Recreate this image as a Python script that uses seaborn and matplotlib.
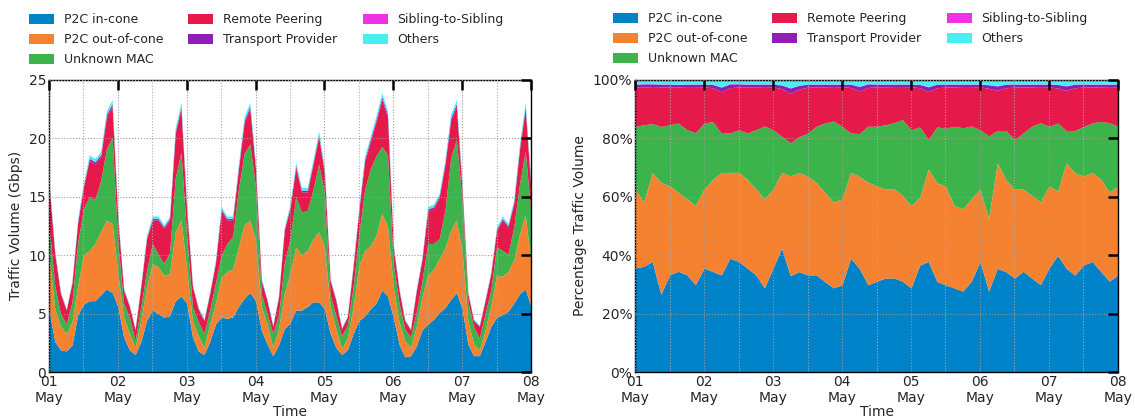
import pandas as pd
import matplotlib
matplotlib.use('Agg')
import matplotlib.pyplot as plt
import matplotlib.dates as mdates
from matplotlib.ticker import MultipleLocator, FuncFormatter
import seaborn as sns

# series names and colours
labels = ['P2C in-cone', 'P2C out-of-cone', 'Unknown MAC', 'Remote Peering',
          'Transport Provider', 'Sibling-to-Sibling', 'Others']
colors = ['#0082c8', '#f58231', '#3cb44b', '#e6194b', '#911eb4', '#f032e6', '#46f0f0']

# --- traffic volume (Gbps), 2-hourly, 01 May 00:00 .. 08 May 00:00 (one row per day) ---
in_cone = [5.3, 2.6, 1.9, 1.8, 2.3, 4.9, 5.8, 6.1, 6.1, 6.6, 7.1, 6.8,
           5.6, 3.0, 1.9, 1.5, 2.6, 4.4, 5.3, 5.0, 4.7, 4.8, 6.1, 6.5,
           5.9, 3.0, 1.8, 1.5, 2.6, 4.1, 4.7, 4.6, 4.7, 5.6, 6.3, 6.8,
           6.1, 3.6, 2.4, 1.4, 2.3, 3.7, 4.2, 5.3, 5.3, 5.6, 6.0, 6.0,
           5.4, 3.3, 2.1, 1.5, 1.9, 3.3, 4.4, 4.8, 5.4, 5.9, 7.0, 6.5,
           4.7, 2.4, 1.3, 1.4, 2.2, 3.6, 4.1, 4.5, 5.1, 5.5, 6.2, 6.8,
           5.4, 2.4, 1.4, 1.4, 2.6, 3.9, 4.7, 4.9, 5.2, 5.9, 6.7, 7.1,
           5.6]
out_cone = [4.7, 2.8, 2.0, 1.5, 2.0, 2.5, 4.2, 4.3, 4.9, 5.4, 5.9, 5.9,
            2.8, 1.7, 1.4, 0.6, 1.8, 2.9, 4.0, 4.0, 3.6, 3.6, 5.9, 6.5,
            2.8, 1.4, 1.3, 0.6, 1.5, 1.8, 3.4, 4.0, 4.1, 5.1, 6.3, 6.2,
            5.2, 2.0, 1.7, 0.7, 1.4, 3.0, 4.3, 5.4, 4.7, 4.8, 5.4, 6.0,
            5.3, 2.3, 1.6, 0.5, 1.0, 2.3, 4.7, 5.6, 5.4, 5.8, 6.6, 5.9,
            2.6, 1.9, 1.4, 0.7, 1.7, 2.8, 4.2, 4.3, 4.6, 5.1, 5.9, 6.2,
            5.0, 2.0, 1.0, 0.5, 1.0, 1.7, 3.6, 3.3, 3.4, 3.7, 5.1, 6.4,
            3.7]
unknown_mac = [2.5, 2.0, 1.1, 0.8, 1.7, 3.7, 4.0, 4.6, 3.8, 4.4, 6.1, 7.4,
               2.6, 1.2, 1.4, 0.6, 1.2, 1.4, 1.7, 1.1, 1.0, 1.8, 4.6, 5.8,
               2.9, 1.2, 1.2, 1.2, 1.2, 1.7, 1.9, 2.4, 2.8, 4.9, 6.1, 6.5,
               4.5, 1.1, 0.9, 1.2, 1.2, 2.6, 2.9, 4.3, 3.7, 3.4, 4.2, 5.8,
               4.6, 1.0, 1.1, 1.1, 1.1, 1.7, 2.7, 5.2, 6.6, 6.8, 5.7, 6.2,
               2.0, 1.6, 1.0, 0.9, 1.2, 1.4, 2.7, 2.2, 1.7, 3.2, 6.2, 6.9,
               4.3, 1.6, 1.5, 1.0, 1.4, 1.4, 2.4, 2.2, 1.5, 2.8, 4.3, 5.4,
               4.3]
remote = [3.5, 2.7, 1.7, 1.2, 1.6, 1.7, 1.8, 3.1, 3.0, 2.0, 2.7, 2.6,
          2.0, 1.1, 0.9, 0.9, 1.7, 2.7, 2.0, 2.9, 3.0, 2.8, 3.8, 3.7,
          2.2, 1.7, 1.1, 1.1, 1.4, 1.7, 3.8, 2.0, 1.4, 1.7, 2.6, 3.0,
          1.5, 1.1, 1.1, 0.6, 1.5, 2.8, 2.6, 2.5, 1.7, 1.6, 2.1, 2.3,
          1.7, 1.2, 1.3, 0.6, 0.7, 1.7, 2.0, 2.4, 2.3, 2.9, 4.0, 3.2,
          1.4, 1.1, 0.7, 0.6, 1.8, 1.8, 2.8, 3.0, 3.5, 3.9, 3.2, 2.8,
          0.9, 0.7, 0.5, 1.0, 1.1, 1.4, 1.4, 2.6, 2.3, 2.0, 2.9, 3.6,
          2.0]
transport = [0.16, 0.10, 0.07, 0.05, 0.08, 0.13, 0.16, 0.18, 0.18, 0.18, 0.22, 0.23,
             0.13, 0.07, 0.06, 0.05, 0.07, 0.11, 0.13, 0.13, 0.12, 0.13, 0.20, 0.22,
             0.14, 0.07, 0.06, 0.06, 0.07, 0.09, 0.14, 0.13, 0.13, 0.17, 0.21, 0.22,
             0.17, 0.08, 0.06, 0.05, 0.06, 0.12, 0.14, 0.17, 0.15, 0.15, 0.18, 0.20,
             0.17, 0.08, 0.06, 0.05, 0.05, 0.09, 0.14, 0.18, 0.20, 0.21, 0.23, 0.22,
             0.11, 0.07, 0.05, 0.05, 0.07, 0.10, 0.14, 0.14, 0.15, 0.18, 0.22, 0.23,
             0.16, 0.07, 0.05, 0.05, 0.06, 0.08, 0.12, 0.13, 0.12, 0.14, 0.19, 0.22,
             0.16]
sibling = [0.02, 0.02, 0.01, 0.01, 0.01, 0.02, 0.02, 0.03, 0.03, 0.03, 0.03, 0.03,
           0.02, 0.01, 0.01, 0.01, 0.01, 0.02, 0.02, 0.02, 0.02, 0.02, 0.03, 0.03,
           0.02, 0.01, 0.01, 0.01, 0.01, 0.02, 0.02, 0.02, 0.02, 0.03, 0.03, 0.03,
           0.03, 0.01, 0.01, 0.01, 0.01, 0.02, 0.02, 0.03, 0.02, 0.02, 0.03, 0.03,
           0.03, 0.01, 0.01, 0.01, 0.01, 0.01, 0.02, 0.03, 0.03, 0.03, 0.03, 0.03,
           0.02, 0.01, 0.01, 0.01, 0.01, 0.02, 0.02, 0.02, 0.02, 0.03, 0.03, 0.03,
           0.02, 0.01, 0.01, 0.01, 0.01, 0.01, 0.02, 0.02, 0.02, 0.02, 0.03, 0.03,
           0.02]
others = [0.24, 0.15, 0.10, 0.08, 0.11, 0.19, 0.24, 0.27, 0.27, 0.28, 0.33, 0.34,
          0.20, 0.11, 0.09, 0.08, 0.11, 0.17, 0.20, 0.20, 0.18, 0.20, 0.31, 0.34,
          0.21, 0.11, 0.09, 0.09, 0.10, 0.14, 0.21, 0.20, 0.20, 0.26, 0.32, 0.34,
          0.26, 0.12, 0.10, 0.08, 0.10, 0.18, 0.21, 0.26, 0.23, 0.23, 0.27, 0.30,
          0.26, 0.12, 0.10, 0.08, 0.08, 0.14, 0.21, 0.27, 0.30, 0.32, 0.35, 0.33,
          0.16, 0.11, 0.08, 0.08, 0.10, 0.14, 0.21, 0.21, 0.22, 0.27, 0.32, 0.34,
          0.23, 0.10, 0.08, 0.08, 0.09, 0.13, 0.18, 0.20, 0.19, 0.22, 0.29, 0.34,
          0.23]

# --- share of traffic (%), 3-hourly (one row per day) ---
pct_in_cone = [35.6, 36.2, 37.9, 26.6, 33.3, 34.5, 33.3, 29.9,
               35.6, 34.5, 33.3, 39.0, 37.9, 35.6, 33.3, 28.8,
               35.6, 42.4, 33.0, 34.5, 33.3, 33.3, 31.0, 28.8,
               29.9, 39.0, 35.6, 29.9, 31.1, 32.2, 32.2, 31.1,
               28.8, 36.7, 37.9, 31.1, 29.9, 28.8, 27.7, 31.1,
               37.9, 27.7, 35.6, 34.5, 32.2, 34.5, 32.2, 29.9,
               35.6, 40.0, 35.6, 33.3, 36.7, 37.9, 34.5, 31.1,
               33.3]
pct_out_cone = [27.1, 22.0, 30.5, 38.4, 30.5, 27.1, 26.0, 27.1,
                27.1, 31.6, 35.1, 29.4, 30.5, 30.5, 29.4, 30.5,
                27.1, 26.0, 34.2, 33.9, 33.9, 31.7, 30.6, 29.4,
                29.4, 29.4, 31.6, 35.1, 32.7, 30.5, 30.5, 29.4,
                28.2, 23.3, 31.6, 33.9, 33.9, 28.2, 28.2, 28.2,
                24.8, 24.8, 36.2, 31.6, 30.5, 28.2, 28.3, 28.3,
                28.2, 22.0, 36.2, 35.1, 30.5, 30.5, 31.6, 30.5,
                30.5]
pct_unknown = [21.5, 26.5, 16.9, 19.2, 20.9, 23.7, 23.7, 24.9,
               22.6, 19.8, 13.5, 13.5, 14.6, 15.8, 20.3, 24.9,
               20.3, 12.4, 11.3, 12.4, 14.7, 19.2, 23.7, 27.7,
               24.9, 13.5, 14.7, 19.2, 20.4, 22.0, 22.6, 25.9,
               26.0, 24.2, 10.2, 19.2, 19.8, 27.2, 27.7, 24.9,
               20.3, 28.3, 11.2, 16.9, 17.0, 19.2, 23.7, 27.1,
               20.4, 23.3, 11.2, 14.6, 17.0, 16.9, 19.8, 23.7,
               20.4]
pct_remote = [13.5, 13.0, 12.4, 13.5, 13.0, 12.4, 14.7, 15.8,
              12.4, 11.6, 14.2, 15.5, 14.7, 15.8, 14.7, 13.5,
              14.7, 16.3, 17.0, 16.3, 15.8, 13.5, 12.4, 11.8,
              13.5, 15.6, 14.7, 13.3, 13.5, 13.0, 12.4, 11.3,
              14.7, 13.5, 16.4, 13.5, 14.1, 13.5, 14.1, 13.5,
              14.7, 16.3, 13.8, 14.7, 18.0, 15.8, 13.5, 12.4,
              13.5, 12.0, 13.8, 14.7, 13.5, 12.4, 11.8, 12.4,
              13.5]
pct_transport = [0.9, 1.0, 1.2, 1.0, 0.9, 0.8, 0.8, 0.8,
                 0.9, 1.1, 1.6, 1.3, 1.0, 0.9, 0.9, 0.8,
                 0.9, 1.2, 1.8, 1.3, 1.0, 0.9, 0.9, 0.8,
                 0.9, 1.1, 1.5, 1.2, 0.9, 0.9, 0.8, 0.8,
                 0.9, 1.1, 1.6, 1.2, 1.0, 0.9, 0.8, 0.8,
                 0.9, 1.2, 1.5, 1.2, 1.0, 0.9, 0.9, 0.8,
                 0.9, 1.2, 1.5, 1.2, 1.0, 0.9, 0.9, 0.8,
                 0.9]
pct_sibling = [0.1] * 57
pct_others = [1.4, 1.3, 1.3, 1.4, 1.4, 1.5, 1.4, 1.4,
              1.4, 1.5, 2.4, 1.3, 1.3, 1.4, 1.4, 1.4,
              1.4, 1.7, 2.7, 1.8, 1.4, 1.4, 1.4, 1.4,
              1.4, 1.4, 2.2, 1.3, 1.4, 1.4, 1.4, 1.4,
              1.4, 1.5, 2.3, 1.4, 1.4, 1.4, 1.4, 1.4,
              1.4, 1.6, 2.0, 1.4, 1.4, 1.4, 1.4, 1.4,
              1.4, 1.5, 2.0, 1.4, 1.4, 1.4, 1.4, 1.4,
              1.4]

t_vol = pd.date_range('2019-05-01', periods=len(in_cone), freq='2h')
t_pct = pd.date_range('2019-05-01', periods=len(pct_in_cone), freq='3h')

vol = pd.DataFrame(dict(zip(labels, [in_cone, out_cone, unknown_mac, remote,
                                     transport, sibling, others])), index=t_vol)
pct = pd.DataFrame(dict(zip(labels, [pct_in_cone, pct_out_cone, pct_unknown, pct_remote,
                                     pct_transport, pct_sibling, pct_others])), index=t_pct)
pct = pct.div(pct.sum(axis=1), axis=0) * 100

sns.set_style('white')
plt.rcParams['font.family'] = ['DejaVu Sans']
plt.rcParams['font.size'] = 10

fig = plt.figure(figsize=(11.35, 4.18), dpi=100)
ax1 = fig.add_axes([0.0432, 0.110, 0.4246, 0.699])
ax2 = fig.add_axes([0.5595, 0.110, 0.4255, 0.699])


def style_axes(ax, idx):
    ax.set_xlim(idx[0], idx[-1])
    ax.xaxis.set_major_locator(mdates.DayLocator())
    ax.xaxis.set_minor_locator(mdates.HourLocator(byhour=12))
    ax.xaxis.set_major_formatter(mdates.DateFormatter('%d\n%b'))
    ax.grid(True, which='major', axis='both', color='#999999', linestyle=':', linewidth=0.8)
    ax.grid(True, which='minor', axis='x', color='#aaaaaa', linestyle=':', linewidth=0.8)
    ax.set_axisbelow(False)
    ax.tick_params(which='major', direction='in', length=7, width=1.8, color='black',
                   top=True, right=True, labelsize=10, pad=2)
    ax.tick_params(which='minor', length=0)
    for s in ax.spines.values():
        s.set_color('black')
        s.set_linewidth(1.0)
    ax.set_xlabel('Time', fontsize=10, labelpad=0)


ax1.stackplot(vol.index, *[vol[c] for c in labels], colors=colors, labels=labels, linewidth=0)
style_axes(ax1, t_vol)
ax1.set_ylim(0, 25)
ax1.yaxis.set_major_locator(MultipleLocator(5))
ax1.set_ylabel('Traffic Volume (Gbps)', fontsize=10)

ax2.stackplot(pct.index, *[pct[c] for c in labels], colors=colors, labels=labels, linewidth=0)
style_axes(ax2, t_pct)
ax2.set_ylim(0, 100)
ax2.yaxis.set_major_locator(MultipleLocator(20))
ax2.yaxis.set_major_formatter(FuncFormatter(lambda v, p: f'{v:.0f}%'))
ax2.set_ylabel('Percentage Traffic Volume', fontsize=10)

for ax, anchor in ((ax1, (-0.052, 1.03)), (ax2, (-0.056, 1.033))):
    ax.legend(loc='lower left', bbox_to_anchor=anchor, ncol=3, frameon=False,
              fontsize=9, handlelength=2.0, handleheight=0.8, handletextpad=0.8,
              columnspacing=2.0, labelspacing=0.55, borderaxespad=0)

fig.savefig('out.png', dpi=100)
